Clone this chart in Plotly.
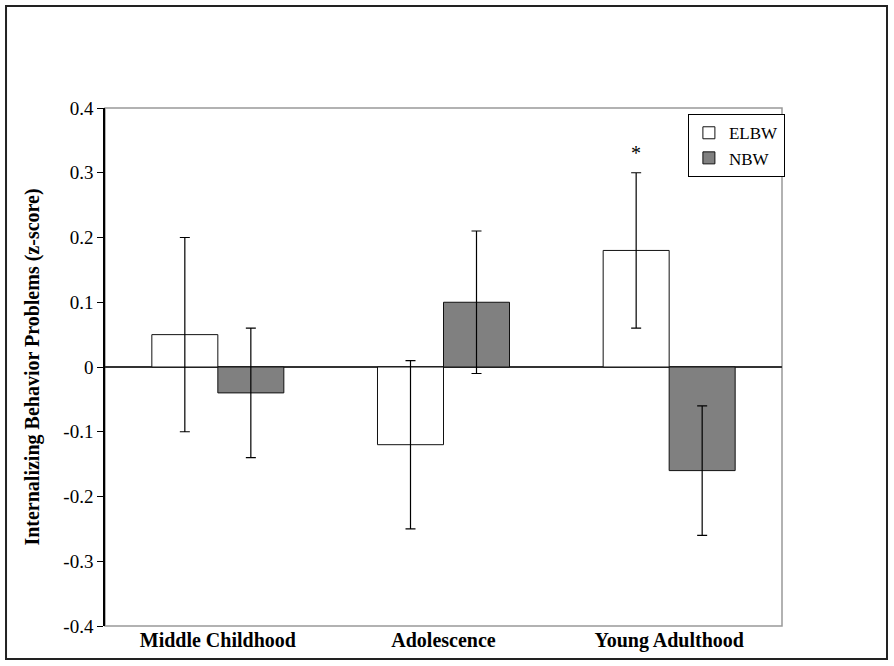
import plotly.graph_objects as go

categories = ["Middle Childhood", "Adolescence", "Young Adulthood"]
elbw_values = [0.05, -0.12, 0.18]
elbw_errors = [0.15, 0.13, 0.12]
nbw_values = [-0.04, 0.10, -0.16]
nbw_errors = [0.10, 0.11, 0.10]
y_tick_values = [0.4, 0.3, 0.2, 0.1, 0, -0.1, -0.2, -0.3, -0.4]
y_tick_labels = ["0.4", "0.3", "0.2", "0.1", "0", "-0.1", "-0.2", "-0.3", "-0.4"]
star_category = "Young Adulthood"
star_y = 0.30

SERIF = "Liberation Serif"

fig = go.Figure()
fig.add_trace(go.Bar(
    name="ELBW", x=categories, y=elbw_values,
    marker=dict(color="white", line=dict(color="#111", width=1)),
    error_y=dict(type="data", array=elbw_errors, visible=True,
                 color="black", thickness=1.2, width=5),
))
fig.add_trace(go.Bar(
    name="NBW", x=categories, y=nbw_values,
    marker=dict(color="#808080", line=dict(color="#111", width=1)),
    error_y=dict(type="data", array=nbw_errors, visible=True,
                 color="black", thickness=1.2, width=5),
))

fig.add_annotation(
    x=star_category, y=star_y, text="*", showarrow=False,
    xshift=-33, yshift=7, yanchor="bottom",
    font=dict(family=SERIF, size=20, color="black"),
)

# plot box (gray) and outer frame
fig.add_shape(type="rect", xref="paper", yref="paper", x0=0, x1=1, y0=0, y1=1,
              line=dict(color="#999999", width=1.5), layer="below")
fig.add_shape(type="rect", xref="paper", yref="paper",
              x0=-0.1462, x1=1.1551, y0=-0.0637, y1=1.1969,
              line=dict(color="#222222", width=2))

fig.update_layout(
    width=894, height=666,
    margin=dict(l=105, r=112, t=108, b=40, autoexpand=False),
    paper_bgcolor="white", plot_bgcolor="white",
    barmode="group", bargap=0.415, bargroupgap=0,
    font=dict(family=SERIF, color="black"),
    showlegend=True,
    legend=dict(
        x=0.861, y=0.988, xanchor="left", yanchor="top",
        bordercolor="black", borderwidth=1, bgcolor="white",
        font=dict(family=SERIF, size=17, color="black"),
        itemwidth=30, tracegroupgap=4,
    ),
)

fig.update_xaxes(
    automargin=False,
    showline=False, showgrid=False, zeroline=False, ticks="",
    tickfont=dict(family=SERIF, size=20, color="black", weight="bold"),
)
fig.update_yaxes(
    automargin=False,
    range=[-0.4, 0.4], tickvals=y_tick_values, ticktext=y_tick_labels,
    showgrid=False, showline=True, linecolor="black", linewidth=1.5,
    ticks="outside", ticklen=6, tickcolor="black", tickwidth=1,
    zeroline=True, zerolinecolor="#333333", zerolinewidth=1.5,
    tickfont=dict(family=SERIF, size=19, color="black"),
    title=dict(text="<b>Internalizing Behavior Problems (z-score)</b>",
               font=dict(family=SERIF, size=20, color="black"), standoff=18),
)

fig.write_html(
    "out.html",
    config={"displayModeBar": False},
    post_script="document.body.style.margin='0px';document.body.style.overflow='hidden';",
)
